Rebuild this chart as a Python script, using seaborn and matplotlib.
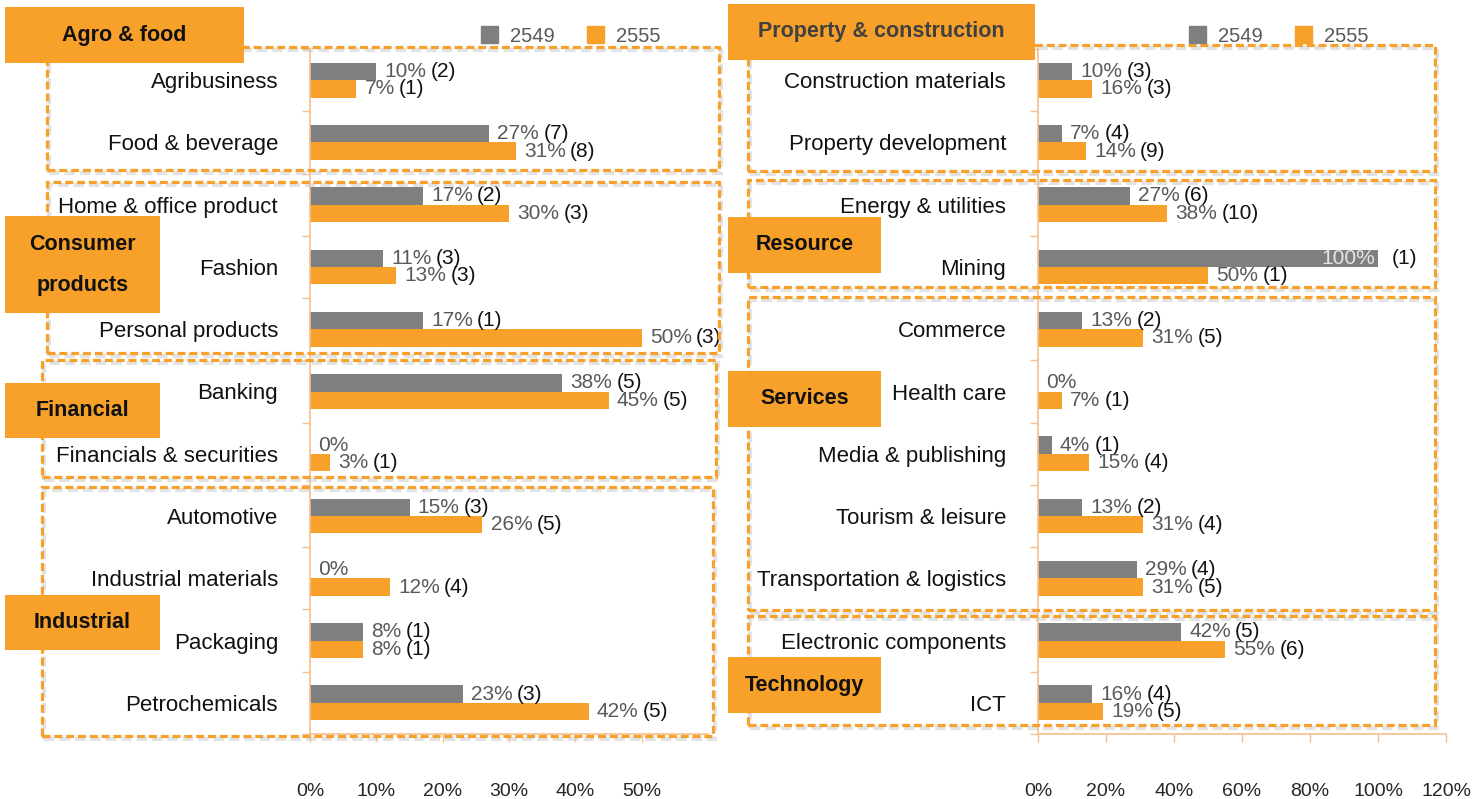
import numpy as np
import pandas as pd
import matplotlib
matplotlib.use('Agg')
import matplotlib.pyplot as plt
import seaborn as sns
from matplotlib.patches import Rectangle, Patch
from matplotlib.offsetbox import TextArea, HPacker, AnnotationBbox

# ---- data ----
years = ['2549', '2555']

left_cats = ['Agribusiness', 'Food & beverage', 'Home & office product', 'Fashion',
             'Personal products', 'Banking', 'Financials & securities', 'Automotive',
             'Industrial materials', 'Packaging', 'Petrochemicals']
left_2549 = [0.10, 0.27, 0.17, 0.11, 0.17, 0.38, 0.00, 0.15, 0.00, 0.08, 0.23]
left_2555 = [0.07, 0.31, 0.30, 0.13, 0.50, 0.45, 0.03, 0.26, 0.12, 0.08, 0.42]
left_n2549 = [2, 7, 2, 3, 1, 5, None, 3, None, 1, 3]
left_n2555 = [1, 8, 3, 3, 3, 5, 1, 5, 4, 1, 5]

right_cats = ['Construction materials', 'Property development', 'Energy & utilities', 'Mining',
              'Commerce', 'Health care', 'Media & publishing', 'Tourism & leisure',
              'Transportation & logistics', 'Electronic components', 'ICT']
right_2549 = [0.10, 0.07, 0.27, 1.00, 0.13, 0.00, 0.04, 0.13, 0.29, 0.42, 0.16]
right_2555 = [0.16, 0.14, 0.38, 0.50, 0.31, 0.07, 0.15, 0.31, 0.31, 0.55, 0.19]
right_n2549 = [3, 4, 6, 1, 2, None, 1, 2, 4, 5, 4]
right_n2555 = [3, 9, 10, 1, 5, 1, 4, 4, 5, 6, 5]

left_ticks = [0, 0.1, 0.2, 0.3, 0.4, 0.5]
right_ticks = [0, 0.2, 0.4, 0.6, 0.8, 1.0, 1.2]

GRAY = '#7F7F7F'
ORANGE = '#F7A12B'
AXIS_C = '#F5C08E'
W, H = 1483, 799
VAL_FS = 15

sns.set_style('white')
plt.rcParams['font.family'] = ['Liberation Sans', 'DejaVu Sans']


def fx(px):
    return px / W


def fy(py):
    return 1 - py / H


def draw_panel(ax, cats, v1, v2, n1, n2, xmax, ticks):
    df = pd.DataFrame({'category': cats * 2,
                       'year': [years[0]] * len(cats) + [years[1]] * len(cats),
                       'share': v1 + v2})
    sns.barplot(data=df, x='share', y='category', hue='year', orient='h',
                palette=[GRAY, ORANGE], saturation=1, width=0.56, legend=False,
                linewidth=0, ax=ax)
    n = len(cats)
    ax.set_xlim(0, xmax)
    ax.set_ylim(n - 0.5, -0.5)
    ax.set_xticks(ticks)
    ax.set_xticklabels([f'{int(round(t * 100))}%' for t in ticks], fontsize=14, color='#262626')
    ax.set_yticks(range(n))
    ax.set_yticklabels(cats, fontsize=16, color='#111111')
    ax.set_yticks(np.arange(-0.5, n, 1), minor=True)
    ax.tick_params(axis='y', which='major', length=0, pad=23)
    ax.tick_params(axis='y', which='minor', length=6, color=AXIS_C, width=1, left=True)
    ax.tick_params(axis='x', length=6, color=AXIS_C, width=1, bottom=True, pad=29)
    ax.set_xlabel('')
    ax.set_ylabel('')
    for s in ['top', 'right']:
        ax.spines[s].set_visible(False)
    for s in ['left', 'bottom']:
        ax.spines[s].set_color(AXIS_C)
        ax.spines[s].set_linewidth(1.2)

    for cont, vals, cnts in zip(ax.containers, [v1, v2], [n1, n2]):
        for bar, v, c in zip(cont, vals, cnts):
            y = bar.get_y() + bar.get_height() / 2
            x = bar.get_width()
            if v >= 1.0:
                # label sits inside the bar end
                inside = AnnotationBbox(TextArea(f'{int(round(v * 100))}%',
                                                 textprops=dict(color='#E6E6E6', fontsize=VAL_FS)),
                                        (x, y), xybox=(-2, 0), xycoords='data',
                                        boxcoords='offset points', box_alignment=(1, 0.5),
                                        frameon=False, pad=0, annotation_clip=False)
                ax.add_artist(inside)
                cb = AnnotationBbox(TextArea(f'({c})', textprops=dict(color='#111111', fontsize=VAL_FS)),
                                    (x, y), xybox=(10, 0), xycoords='data',
                                    boxcoords='offset points', box_alignment=(0, 0.5),
                                    frameon=False, pad=0, annotation_clip=False)
                ax.add_artist(cb)
                continue
            kids = [TextArea(f'{int(round(v * 100))}%',
                             textprops=dict(color='#595959', fontsize=VAL_FS))]
            if c is not None:
                kids.append(TextArea(f'({c})', textprops=dict(color='#111111', fontsize=VAL_FS)))
            box = HPacker(children=kids, align='baseline', pad=0, sep=3)
            ab = AnnotationBbox(box, (x, y), xybox=(6, 0), xycoords='data',
                                boxcoords='offset points', box_alignment=(0, 0.5),
                                frameon=False, pad=0, annotation_clip=False)
            ax.add_artist(ab)


fig = plt.figure(figsize=(W / 100, H / 100), dpi=100)
top_px, bot_px = 49, 734
ax_l = fig.add_axes([fx(310), fy(bot_px), (708 - 310) / W, (bot_px - top_px) / H])
ax_r = fig.add_axes([fx(1038), fy(bot_px), (1446 - 1038) / W, (bot_px - top_px) / H])
for a in (ax_l, ax_r):
    a.patch.set_alpha(0)

draw_panel(ax_l, left_cats, left_2549, left_2555, left_n2549, left_n2555, 0.6, left_ticks)
draw_panel(ax_r, right_cats, right_2549, right_2555, right_n2549, right_n2555, 1.2, right_ticks)

# dashed group frames (pixel layout)
frames = [(47, 47, 719, 170), (47, 182, 719, 353), (42, 360, 716, 477), (42, 487, 713, 736),
          (748, 45, 1435, 171), (748, 180, 1435, 287), (748, 297, 1435, 610), (748, 616, 1435, 725)]
for x0, y0, x1, y1 in frames:
    fig.patches.append(Rectangle((fx(x0 + 2), fy(y1 + 3)), (x1 - x0) / W, (y1 - y0) / H,
                                 transform=fig.transFigure, fill=False, edgecolor='#C8C8C8',
                                 lw=3, alpha=0.5, linestyle=(0, (2.5, 1.2)), zorder=2))
    fig.patches.append(Rectangle((fx(x0), fy(y1)), (x1 - x0) / W, (y1 - y0) / H,
                                 transform=fig.transFigure, fill=False, edgecolor=ORANGE,
                                 lw=2.3, linestyle=(0, (2.5, 1.2)), zorder=3))

# orange group labels
labels = [(5, 7, 244, 63, 'Agro & food', '#111111'),
          (5, 216, 160, 313, 'Consumer\nproducts', '#111111'),
          (5, 383, 160, 438, 'Financial', '#111111'),
          (5, 595, 160, 650, 'Industrial', '#111111'),
          (728, 4, 1035, 60, 'Property & construction', '#404040'),
          (728, 217, 881, 273, 'Resource', '#111111'),
          (728, 371, 881, 427, 'Services', '#111111'),
          (728, 657, 881, 713, 'Technology', '#111111')]
for x0, y0, x1, y1, txt, col in labels:
    fig.patches.append(Rectangle((fx(x0), fy(y1)), (x1 - x0) / W, (y1 - y0) / H,
                                 transform=fig.transFigure, facecolor=ORANGE,
                                 edgecolor='none', zorder=4))
    fig.text(fx((x0 + x1) / 2), fy((y0 + y1) / 2), txt, ha='center', va='center',
             fontsize=15.5, fontweight='bold', color=col, linespacing=2.25, zorder=5)

# legends
handles = [Patch(color=GRAY, label=years[0]), Patch(color=ORANGE, label=years[1])]
for cx in (571, 1279):
    fig.legend(handles=handles, ncol=2, loc='center', bbox_to_anchor=(fx(cx), fy(36)),
               frameon=False, handlelength=0.85, handleheight=0.85, columnspacing=1.6,
               handletextpad=0.6, fontsize=14.5, labelcolor='#595959')

fig.savefig('out.png', dpi=100)
